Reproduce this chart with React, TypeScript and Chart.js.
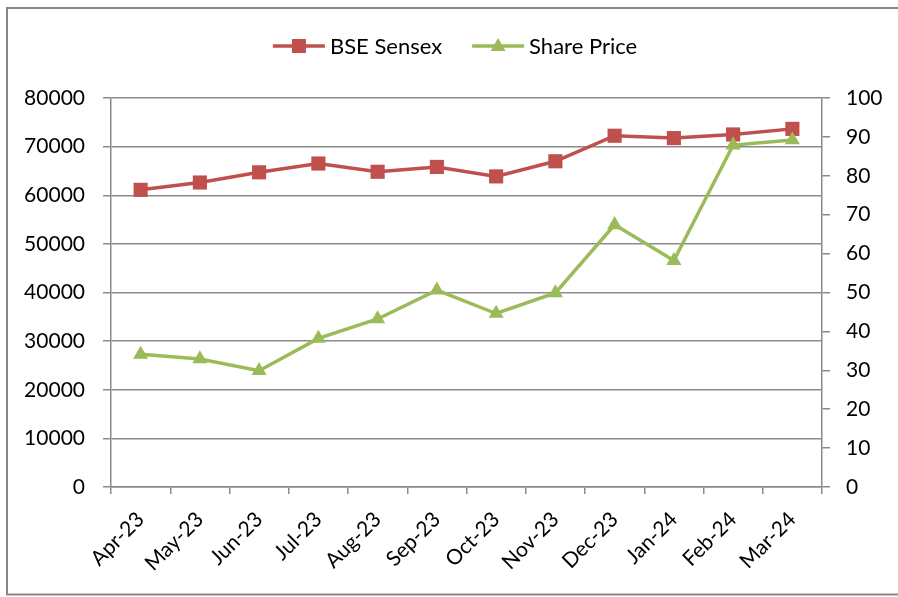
import React, { useEffect, useRef } from "react";
import { Chart, registerables } from "chart.js";

Chart.register(...registerables);

const categories = ["Apr-23", "May-23", "Jun-23", "Jul-23", "Aug-23", "Sep-23", "Oct-23", "Nov-23", "Dec-23", "Jan-24", "Feb-24", "Mar-24"];
const sensex = [61112, 62622, 64718, 66527, 64831, 65828, 63875, 66988, 72240, 71752, 72500, 73651];
const sharePrice = [34.1, 32.9, 29.9, 38.2, 43.2, 50.6, 44.6, 49.9, 67.4, 58.2, 87.9, 89.2];
const leftTicks = { min: 0, max: 80000, step: 10000 };
const rightTicks = { min: 0, max: 100, step: 10 };

const RED = "#C0504D";
const GREEN = "#9BBB59";
const GRID = "#8a8a8a";
const FONT = "Lato";

const chromePlugin = {
  id: "chrome",
  beforeDraw(chart: any) {
    const ctx = chart.ctx;
    ctx.save();
    ctx.fillStyle = "#ffffff";
    ctx.fillRect(0, 0, chart.width, chart.height);
    ctx.strokeStyle = "#878787";
    ctx.lineWidth = 2;
    ctx.strokeRect(7, 8, chart.width + 10, chart.height - 8 - 2.5);
    ctx.restore();
  },
  afterDraw(chart: any) {
    const ctx = chart.ctx;
    ctx.save();
    ctx.font = `22px ${FONT}`;
    ctx.textBaseline = "middle";
    const items = [
      { label: "BSE Sensex", color: RED, style: "rect" },
      { label: "Share Price", color: GREEN, style: "triangle" },
    ];
    const lineLen = 52;
    const gapText = 5;
    const gapItems = 30;
    const widths = items.map((it) => ctx.measureText(it.label).width);
    const total = items.reduce((s, it, i) => s + lineLen + gapText + widths[i], 0) + gapItems * (items.length - 1);
    let x = 455 - total / 2;
    const y = 46;
    items.forEach((it, i) => {
      ctx.strokeStyle = it.color;
      ctx.lineWidth = 3.5;
      ctx.beginPath();
      ctx.moveTo(x, y);
      ctx.lineTo(x + lineLen, y);
      ctx.stroke();
      ctx.fillStyle = it.color;
      const cx = x + lineLen / 2;
      if (it.style === "rect") {
        ctx.fillRect(cx - 7, y - 7, 14, 14);
      } else {
        ctx.beginPath();
        ctx.moveTo(cx, y - 8);
        ctx.lineTo(cx + 7.5, y + 5);
        ctx.lineTo(cx - 7.5, y + 5);
        ctx.closePath();
        ctx.fill();
      }
      ctx.fillStyle = "#000000";
      ctx.textAlign = "left";
      ctx.fillText(it.label, x + lineLen + gapText, y + 1);
      x += lineLen + gapText + widths[i] + gapItems;
    });
    ctx.restore();
  },
};

export default function App() {
  const ref = useRef<HTMLCanvasElement | null>(null);
  useEffect(() => {
    document.body.style.margin = "0";
    const canvas = ref.current;
    if (!canvas) return;
    const chart = new Chart(canvas, {
      type: "line",
      data: {
        labels: categories,
        datasets: [
          {
            label: "BSE Sensex",
            data: sensex,
            yAxisID: "y",
            borderColor: RED,
            backgroundColor: RED,
            borderWidth: 3.5,
            pointStyle: "rect",
            pointRadius: 10,
            pointBorderWidth: 0,
            tension: 0,
            order: 1,
          },
          {
            label: "Share Price",
            data: sharePrice,
            yAxisID: "y1",
            borderColor: GREEN,
            backgroundColor: GREEN,
            borderWidth: 3.5,
            pointStyle: "triangle",
            pointRadius: 8.7,
            pointBorderWidth: 0,
            tension: 0,
            order: 0,
          },
        ],
      },
      options: {
        animation: false,
        responsive: false,
        maintainAspectRatio: false,
        layout: { padding: { top: 98, left: 0, right: 0, bottom: 0 } },
        plugins: {
          legend: { display: false },
          tooltip: { enabled: false },
        },
        scales: {
          x: {
            offset: true,
            afterFit: (s: any) => {
              s.height = 110;
            },
            grid: {
              offset: true,
              drawOnChartArea: false,
              color: GRID,
              tickLength: 7,
              lineWidth: 1.5,
            },
            border: { color: GRID, width: 1.5 },
            ticks: {
              maxRotation: 45,
              minRotation: 45,
              autoSkip: false,
              padding: 13,
              color: "#000",
              font: { family: FONT, size: 21 },
            },
          },
          y: {
            position: "left",
            min: leftTicks.min,
            max: leftTicks.max,
            afterFit: (s: any) => {
              s.width = 111;
            },
            grid: { color: GRID, tickLength: 8, lineWidth: 1.5 },
            border: { color: GRID, width: 1.5 },
            ticks: {
              stepSize: leftTicks.step,
              padding: 18,
              color: "#000",
              font: { family: FONT, size: 21 },
              callback: (v: any) => String(v),
            },
          },
          y1: {
            position: "right",
            min: rightTicks.min,
            max: rightTicks.max,
            afterFit: (s: any) => {
              s.width = 76;
            },
            grid: { drawOnChartArea: false, color: GRID, tickLength: 8, lineWidth: 1.5 },
            border: { color: GRID, width: 1.5 },
            ticks: {
              stepSize: rightTicks.step,
              padding: 16,
              color: "#000",
              font: { family: FONT, size: 21 },
              callback: (v: any) => String(v),
            },
          },
        },
      },
      plugins: [chromePlugin],
    });
    return () => chart.destroy();
  }, []);
  return (
    <div style={{ width: 898, height: 597, position: "relative" }}>
      <canvas ref={ref} width={898} height={597} style={{ display: "block" }} />
    </div>
  );
}
